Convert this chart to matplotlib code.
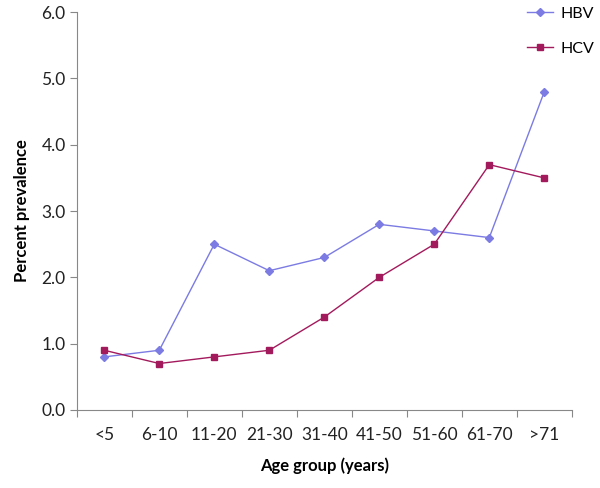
import matplotlib
matplotlib.use("Agg")
import matplotlib.pyplot as plt

categories = ["<5", "6-10", "11-20", "21-30", "31-40", "41-50", "51-60", "61-70", ">71"]
hbv = [0.8, 0.9, 2.5, 2.1, 2.3, 2.8, 2.7, 2.6, 4.8]
hcv = [0.9, 0.7, 0.8, 0.9, 1.4, 2.0, 2.5, 3.7, 3.5]
yticks = [0.0, 1.0, 2.0, 3.0, 4.0, 5.0, 6.0]

plt.rcParams['font.family'] = ['Lato', 'DejaVu Sans']

fig = plt.figure(figsize=(6.0, 4.88), dpi=100)
ax = fig.add_axes([0.128, 0.160, 0.825, 0.815])

x = list(range(len(categories)))
ax.plot(x, hbv, color="#7B7BE3", lw=1.0, marker="D", ms=4.5, label="HBV")
ax.plot(x, hcv, color="#A31A5C", lw=1.0, marker="s", ms=5, label="HCV")

ax.set_xlim(-0.5, len(categories) - 0.5)
ax.set_ylim(0, 6)
ax.set_yticks(yticks)
ax.set_yticklabels([f"{v:.1f}" for v in yticks], fontsize=12.5, color="#222222")
ax.set_xticks([i - 0.5 for i in range(len(categories) + 1)])
ax.set_xticklabels([])
ax.set_xticks(x, minor=True)
ax.set_xticklabels(categories, minor=True, fontsize=12.5, color="#222222")
ax.tick_params(axis="x", which="minor", length=0, pad=12)
ax.tick_params(axis="x", which="major", length=5, color="#888888", direction="out")
ax.tick_params(axis="y", length=5, color="#888888", direction="out", pad=3)

for s in ["top", "right"]:
    ax.spines[s].set_visible(False)
for s in ["left", "bottom"]:
    ax.spines[s].set_color("#888888")
    ax.spines[s].set_linewidth(0.8)

ax.set_xlabel("Age group (years)", fontsize=12, fontweight="bold", labelpad=11)
ax.set_ylabel("Percent prevalence", fontsize=12, fontweight="bold", labelpad=8)

leg = ax.legend(loc="upper right", bbox_to_anchor=(1.075, 1.05), frameon=False,
                fontsize=11.5, labelspacing=1.3, handlelength=1.6, handletextpad=0.5)

fig.savefig("out.png", dpi=100)
